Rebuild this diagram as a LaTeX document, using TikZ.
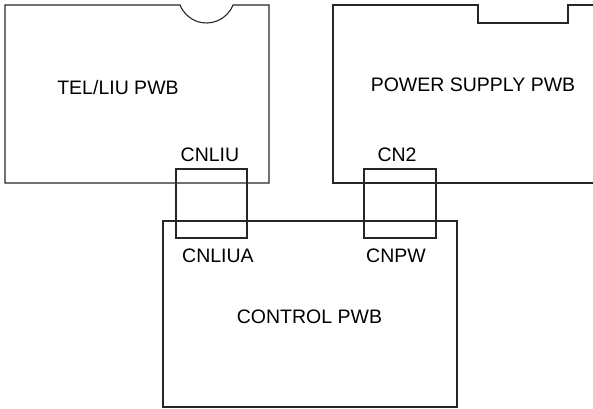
\documentclass[tikz,border=0pt]{standalone}
\usepackage{fontspec}
\setmainfont{Liberation Sans}
\begin{document}
\begin{tikzpicture}[x=1pt,y=1pt,
  board/.style={draw=black!85,line width=1.1pt},
  conbox/.style={draw=black!85,line width=1.1pt,minimum width=#1,minimum height=69pt,inner sep=0pt},
  lbl/.style={anchor=base,inner sep=0pt,font=\fontsize{19.5}{23}\selectfont}]
\useasboundingbox (0,0) rectangle (593,408);
% TEL/LIU board
\draw[board] (180,403) -- (5,403) -- (5,225) -- (269,225) -- (269,403) -- (233,403)
  arc[start angle=338.4,end angle=201.6,radius=28.5] -- cycle;
% Power supply board
\draw[board] (593,403) -- (568,403) -- (568,385) -- (478,385) -- (478,403) -- (333,403)
  -- (333,225) -- (593,225);
% Control board
\draw[board] (163,1) rectangle (457,187);
% connectors
\node[conbox=71pt] (cnliu) at (211.5,204.5) {};
\node[conbox=72pt] (cnpw) at (400,204.5) {};
% labels
\node[lbl] (tel) at (118,314) {TEL/LIU PWB};
\node[lbl] (pow) at (473,316.5) {POWER SUPPLY PWB};
\node[lbl] (ctl) at (309.5,85) {CONTROL PWB};
\node[lbl] (lcnliu) at (210,246.5) {CNLIU};
\node[lbl] (lcn2) at (397,246.5) {CN2};
\node[lbl] (lcnliua) at (218,145.5) {CNLIUA};
\node[lbl] (lcnpw) at (396,145.5) {CNPW};
\end{tikzpicture}
\end{document}
